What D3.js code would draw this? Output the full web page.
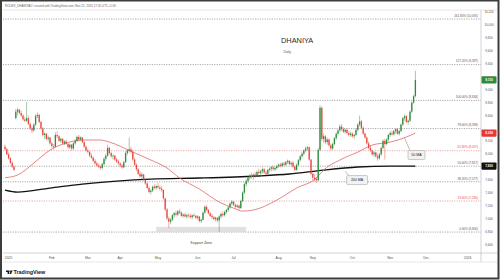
<!DOCTYPE html>
<html>
<head>
<meta charset="utf-8">
<script src="https://cdn.jsdelivr.net/npm/d3@7"></script>
<style>
body { margin: 0; background: #fff; }
svg { display: block; font-family: "Liberation Sans", Arial, sans-serif; }
</style>
</head>
<body>
<svg id="chart" width="500" height="280"></svg>
<script>
// daily OHLC, one row per trading day
var candles = [
  [8120,8150,8060,8080],[8080,8100,7990,8000],[8000,8030,7920,7940],[7940,7960,7850,7870],[7870,7900,7790,7810],
  [7810,7830,7740,7760],[8560,8700,8540,8660],[8660,8720,8600,8690],[8690,8700,8620,8640],[8640,8680,8580,8600],
  [8600,8620,8520,8540],[8540,8580,8500,8520],[8520,8810,8500,8560],[8560,8600,8450,8470],[8470,8500,8380,8400],
  [8400,8430,8330,8370],[8370,8480,8350,8460],[8460,8620,8440,8590],[8590,8650,8560,8610],[8610,8630,8480,8500],
  [8500,8520,8380,8400],[8400,8420,8280,8300],[8300,8340,8240,8320],[8320,8330,8220,8240],[8240,8290,8200,8260],
  [8260,8270,8150,8170],[8170,8200,8100,8130],[8130,8160,8080,8120],[8120,8340,8110,8300],[8300,8360,8250,8280],
  [8280,8300,8190,8210],[8210,8260,8180,8240],[8240,8250,8150,8170],[8170,8220,8140,8200],[8200,8230,8150,8160],
  [8160,8180,8090,8110],[8110,8170,8080,8150],[8150,8160,8060,8090],[8090,8190,8070,8170],[8170,8230,8150,8210],
  [8210,8290,8190,8270],[8270,8300,8200,8230],[8230,8280,8210,8260],[8260,8270,8170,8190],[8190,8210,8100,8120],
  [8120,8140,8040,8060],[8060,8090,8010,8040],[8040,8050,7960,7980],[7980,8020,7930,7950],[7950,7970,7880,7900],
  [7900,7930,7840,7860],[7860,7890,7810,7830],[7830,7860,7790,7810],[7810,7830,7760,7790],[7790,7870,7770,7850],
  [7850,7960,7830,7930],[7930,8010,7900,7980],[7980,8150,7960,8100],[8100,8120,8000,8020],[8020,8040,7950,7970],
  [7970,8000,7920,7980],[7980,7990,7900,7920],[7920,7950,7870,7890],[7890,7920,7840,7860],[7860,7880,7800,7830],
  [7830,7850,7780,7800],[7800,7900,7790,7880],[7880,8050,7870,8020],[8020,8080,7990,8060],[8060,8260,8030,8080],
  [8080,8120,8010,8040],[8040,8070,7900,7920],[7920,7950,7820,7840],[7840,7860,7740,7770],[7770,7790,7680,7700],
  [7700,7740,7640,7660],[7660,7720,7620,7690],[7690,7700,7590,7610],[7610,7630,7530,7550],[7550,7570,7460,7480],
  [7480,7510,7400,7420],[7420,7460,7380,7440],[7440,7520,7420,7500],[7500,7540,7460,7480],[7480,7530,7450,7510],
  [7510,7560,7470,7490],[7490,7520,7440,7470],[7470,7510,7420,7450],[7450,7460,7300,7320],[7320,7330,7120,7150],
  [7150,7170,6980,7010],[7010,7040,6860,6960],[6960,7020,6920,6990],[6990,7080,6970,7060],[7060,7110,7020,7090],
  [7090,7130,7040,7070],[7070,7140,7050,7120],[7120,7160,7080,7100],[7100,7120,7030,7050],[7050,7090,7020,7070],
  [7070,7100,7030,7040],[7040,7080,7010,7060],[7060,7090,7020,7050],[7050,7080,7010,7030],[7030,7070,7000,7060],
  [7060,7090,7030,7050],[7050,7070,7000,7020],[7020,7060,6990,7040],[7040,7050,6950,6970],[6970,7010,6940,6990],
  [6990,7120,6980,7100],[7100,7210,7080,7190],[7190,7220,7120,7140],[7140,7160,7070,7090],[7090,7110,7030,7050],
  [7050,7080,7000,7030],[7030,7050,6980,7000],[7000,7040,6960,7020],[7020,7030,6950,6980],[6980,7060,6800,7040],
  [7040,7100,7010,7080],[7080,7120,7040,7060],[7060,7130,7040,7110],[7110,7160,7080,7140],[7140,7200,7110,7180],
  [7180,7260,7160,7240],[7240,7290,7210,7270],[7270,7280,7200,7220],[7220,7240,7160,7190],[7190,7230,7170,7210],
  [7210,7220,7140,7170],[7170,7300,7160,7280],[7280,7430,7260,7410],[7410,7560,7390,7540],[7540,7620,7500,7590],
  [7590,7660,7560,7640],[7640,7700,7600,7670],[7670,7720,7620,7650],[7650,7700,7610,7690],[7690,7730,7640,7670],
  [7670,7750,7650,7730],[7730,7780,7690,7710],[7710,7760,7680,7740],[7740,7800,7700,7770],[7770,7790,7700,7720],
  [7720,7750,7680,7700],[7700,7780,7690,7760],[7760,7800,7730,7780],[7780,7820,7740,7800],[7800,7830,7750,7770],
  [7770,7810,7740,7790],[7790,7840,7760,7820],[7820,7860,7790,7840],[7840,7870,7800,7820],[7820,7880,7800,7860],
  [7860,7890,7820,7840],[7840,7900,7820,7880],[7880,7920,7850,7900],[7900,7910,7830,7850],[7850,7890,7820,7870],
  [7870,7900,7790,7810],[7810,7830,7740,7760],[7760,7860,7750,7840],[7840,7930,7820,7910],[7910,7990,7890,7970],
  [7970,8040,7940,8010],[8010,8080,7980,8060],[8060,8120,8030,8090],[8090,8130,8050,8110],[8110,8120,7900,7920],
  [7920,7930,7680,7700],[7700,7720,7600,7640],[7640,7700,7580,7620],[7620,7650,7560,7600],[7600,8100,7590,8070],
  [8070,8760,8050,8720],[8720,8740,8200,8240],[8240,8320,8180,8280],[8280,8300,8160,8190],[8190,8260,8150,8230],
  [8230,8250,8120,8140],[8140,8170,8060,8090],[8090,8180,8070,8160],[8160,8270,8140,8250],[8250,8340,8220,8320],
  [8320,8390,8290,8370],[8370,8460,8350,8430],[8430,8470,8360,8390],[8390,8420,8330,8350],[8350,8400,8320,8380],
  [8380,8400,8310,8330],[8330,8360,8280,8300],[8300,8350,8270,8320],[8320,8340,8260,8280],[8280,8320,8240,8300],
  [8300,8400,8280,8380],[8380,8480,8350,8460],[8460,8600,8430,8510],[8510,8530,8390,8410],[8410,8430,8300,8320],
  [8320,8340,8240,8260],[8260,8280,8150,8170],[8170,8200,8080,8100],[8100,8140,8040,8060],[8060,8080,7980,8000],
  [8000,8050,7960,8030],[8030,8040,7950,7970],[7970,8010,7900,7940],[7940,8020,7920,8000],[8000,8120,7980,8100],
  [8100,8230,8080,8210],[8210,8240,7920,8160],[8160,8250,8140,8230],[8230,8320,8200,8300],[8300,8360,8270,8330],
  [8330,8370,8290,8310],[8310,8380,8290,8360],[8360,8400,8320,8390],[8390,8410,8300,8320],[8320,8380,8290,8360],
  [8360,8480,8340,8460],[8460,8580,8440,8560],[8560,8620,8520,8590],[8590,8610,8480,8500],[8500,8540,8460,8520],
  [8520,8680,8500,8660],[8660,8820,8640,8800],[8800,8920,8780,8900],[8900,9290,8880,9150]
];

// moving averages sampled along the drawn curves: [day index, price]
var ma50 = [[0,7640],[7,7681],[16,7866],[25,8067],[34,8175],[43,8222],[53,8222],[58,8190],[71,8036],
  [81,7913],[90,7789],[97,7635],[108,7465],[119,7264],[127,7170],[132,7124],[140,7155],[151,7294],
  [162,7480],[173,7635],[177,7758],[186,7913],[196,8036],[204,8144],[214,8190],[223,8268],[228,8330]];
var ma200 = [[0,7449],[7,7418],[25,7480],[43,7542],[62,7588],[81,7619],[108,7635],[140,7666],
  [158,7697],[177,7758],[196,7805],[214,7820],[228,7820]];

var fibRatios = [0, 23.6, 38.2, 50, 61.8, 78.6, 100, 127.2, 161.8];
var fibPrices = [6800, 7280, 7577, 7817, 8057, 8399, 8834, 9387, 10091];

var priceTicks = [6600, 6800, 7000, 7200, 7400, 7600, 7800, 8000, 8200, 8400, 8600, 8800,
  9000, 9200, 9400, 9600, 9800, 10000, 10200];
var monthLabels = ['2025', 'Feb', 'Mar', 'Apr', 'May', 'Jun', 'Jul', 'Aug', 'Sep', 'Oct', 'Nov', 'Dec', '2026'];
var monthIndex = [2, 26, 46, 64, 85, 107, 127, 152, 171, 193, 214, 234, 257];

var supportZone = [6800, 6880]; // price band
var supportDays = [84, 134];

var UP = '#2e8b3c', DOWN = '#e5473f', MA50_COLOR = '#e06666';

var svg = d3.select('#chart');
var x = d3.scaleLinear().domain([0, 262]).range([5, 476.6]);
var y = d3.scaleLinear().domain([6600, 10200]).range([245, 12]);
var fmt = d3.format(',');

svg.append('rect').attr('width', 500).attr('height', 280).attr('fill', '#fff');

// header
svg.append('text').attr('x', 5).attr('y', 7)
  .attr('font-size', 3).attr('fill', '#666')
  .text('NCDEX_DHANIYA1! created with TradingView.com, Nov 21, 2025 17:45 UTC+5:30');

// pane borders
svg.append('line').attr('x1', 3).attr('x2', 497).attr('y1', 10).attr('y2', 10)
  .attr('stroke', '#d6d6d6').attr('stroke-width', 0.6);
svg.append('line').attr('x1', 481).attr('x2', 481).attr('y1', 10).attr('y2', 262)
  .attr('stroke', '#b5b5b5').attr('stroke-width', 0.6);
svg.append('line').attr('x1', 3).attr('x2', 497).attr('y1', 253).attr('y2', 253)
  .attr('stroke', '#b5b5b5').attr('stroke-width', 0.6);
svg.append('line').attr('x1', 3).attr('x2', 497).attr('y1', 262).attr('y2', 262)
  .attr('stroke', '#d6d6d6').attr('stroke-width', 0.6);

// fibonacci levels
var redFib = [23.6, 61.8];
var fib = svg.append('g');
fibRatios.forEach(function(r, i) {
  var c = redFib.indexOf(r) >= 0 ? '#e07070' : '#6e6e6e';
  var yy = y(fibPrices[i]);
  fib.append('line').attr('x1', 3).attr('x2', 481).attr('y1', yy).attr('y2', yy)
    .attr('stroke', c).attr('stroke-width', 0.6).attr('stroke-dasharray', '1.2,1.2');
  fib.append('text').attr('x', 478).attr('y', yy - 2.2).attr('text-anchor', 'end')
    .attr('font-size', 3).attr('fill', redFib.indexOf(r) >= 0 ? '#d9534f' : '#555')
    .text(r.toFixed(2) + '% (' + fmt(fibPrices[i]) + ')');
});

// support zone
svg.append('rect')
  .attr('x', x(supportDays[0])).attr('width', x(supportDays[1]) - x(supportDays[0]))
  .attr('y', y(supportZone[1])).attr('height', y(supportZone[0]) - y(supportZone[1]))
  .attr('fill', '#d9d9d9').attr('opacity', 0.8);
svg.append('text').attr('x', x((supportDays[0] + supportDays[1]) / 2)).attr('y', 244)
  .attr('text-anchor', 'middle').attr('font-size', 3.6).attr('fill', '#444').text('Support Zone');

// moving averages
var maLine = d3.line()
  .x(function(d) { return x(d[0]); })
  .y(function(d) { return y(d[1]); })
  .curve(d3.curveMonotoneX);
svg.append('path').attr('d', maLine(ma200)).attr('fill', 'none')
  .attr('stroke', '#111').attr('stroke-width', 1.3);
svg.append('path').attr('d', maLine(ma50)).attr('fill', 'none')
  .attr('stroke', MA50_COLOR).attr('stroke-width', 0.8);

// candles
var bodyW = 1.3;
var c = svg.append('g').selectAll('g').data(candles).enter().append('g');
c.append('line')
  .attr('x1', function(d, i) { return x(i); }).attr('x2', function(d, i) { return x(i); })
  .attr('y1', function(d) { return y(d[1]); }).attr('y2', function(d) { return y(d[2]); })
  .attr('stroke', function(d) { return d[3] >= d[0] ? UP : DOWN; })
  .attr('stroke-width', 0.45);
c.append('rect')
  .attr('x', function(d, i) { return x(i) - bodyW / 2; })
  .attr('width', bodyW)
  .attr('y', function(d) { return y(Math.max(d[0], d[3])); })
  .attr('height', function(d) { return Math.max(0.6, Math.abs(y(d[0]) - y(d[3]))); })
  .attr('fill', function(d) { return d[3] >= d[0] ? UP : DOWN; });

// MA callouts
function callout(anchor, box, w, label) {
  var bx = x(box[0]), by = y(box[1]);
  svg.append('line').attr('x1', x(anchor[0])).attr('y1', y(anchor[1]))
    .attr('x2', bx - w / 2 + 2).attr('y2', by - 4.5)
    .attr('stroke', '#777').attr('stroke-width', 0.5);
  svg.append('rect').attr('x', bx - w / 2).attr('y', by - 4.5).attr('width', w).attr('height', 9)
    .attr('rx', 1.2).attr('fill', '#f2f2f2').attr('stroke', '#9a9a9a').attr('stroke-width', 0.5);
  svg.append('text').attr('x', bx).attr('y', by + 1.3).attr('text-anchor', 'middle')
    .attr('font-size', 3.6).attr('fill', '#222').text(label);
}
callout([222, 8250], [228.6, 7990], 17, '50 MA');
callout([189, 7740], [195.6, 7603], 21, '200 MA');

// title
svg.append('text').attr('x', 281).attr('y', 43).attr('font-size', 7.4).attr('fill', '#2a2a2a')
  .text('DHANIYA');
svg.append('text').attr('x', 283.5).attr('y', 53).attr('font-size', 3.4).attr('fill', '#555')
  .text('Daily');

// price scale
var last = candles[candles.length - 1][3];
var badges = [
  { v: last, fill: UP },
  { v: ma50[ma50.length - 1][1], fill: '#e53935' },
  { v: ma200[ma200.length - 1][1], fill: '#111' }
];
svg.append('g').selectAll('text').data(priceTicks.filter(function(t) {
    return badges.every(function(b) { return Math.abs(y(t) - y(b.v)) > 5; });
  })).enter().append('text')
  .attr('x', 489).attr('y', function(d) { return y(d) + 1; })
  .attr('text-anchor', 'middle').attr('font-size', 3).attr('fill', '#555')
  .text(fmt);
badges.forEach(function(b) {
  svg.append('rect').attr('x', 481.5).attr('y', y(b.v) - 3.6).attr('width', 15).attr('height', 7.2)
    .attr('rx', 0.8).attr('fill', b.fill);
  svg.append('text').attr('x', 489).attr('y', y(b.v) + 1.1).attr('text-anchor', 'middle')
    .attr('font-size', 3.1).attr('font-weight', 'bold').attr('fill', '#fff').text(fmt(b.v));
});

// time scale
svg.append('g').selectAll('text').data(monthLabels).enter().append('text')
  .attr('x', function(d, i) { return x(monthIndex[i]); }).attr('y', 259)
  .attr('text-anchor', 'middle').attr('font-size', 3.4).attr('fill', '#555')
  .text(function(d) { return d; });

// TradingView mark
var logo = svg.append('g').attr('transform', 'translate(6,270.5)').attr('fill', '#131722');
logo.append('path').attr('d', 'M0,0 H3.2 V3.6 H1.6 V1.4 H0 Z');
logo.append('circle').attr('cx', 4.1).attr('cy', 0.8).attr('r', 0.75);
logo.append('path').attr('d', 'M4.9,0 H6.6 L5.1,3.6 H3.6 Z');
svg.append('text').attr('x', 13.5).attr('y', 274.2).attr('font-size', 5.4)
  .attr('font-weight', 'bold').attr('fill', '#131722').text('TradingView');

// outer frame
svg.append('rect').attr('x', 1).attr('y', 0.5).attr('width', 497.5).attr('height', 278)
  .attr('fill', 'none').attr('stroke', '#3c3c3c').attr('stroke-width', 2);
</script>
</body>
</html>
